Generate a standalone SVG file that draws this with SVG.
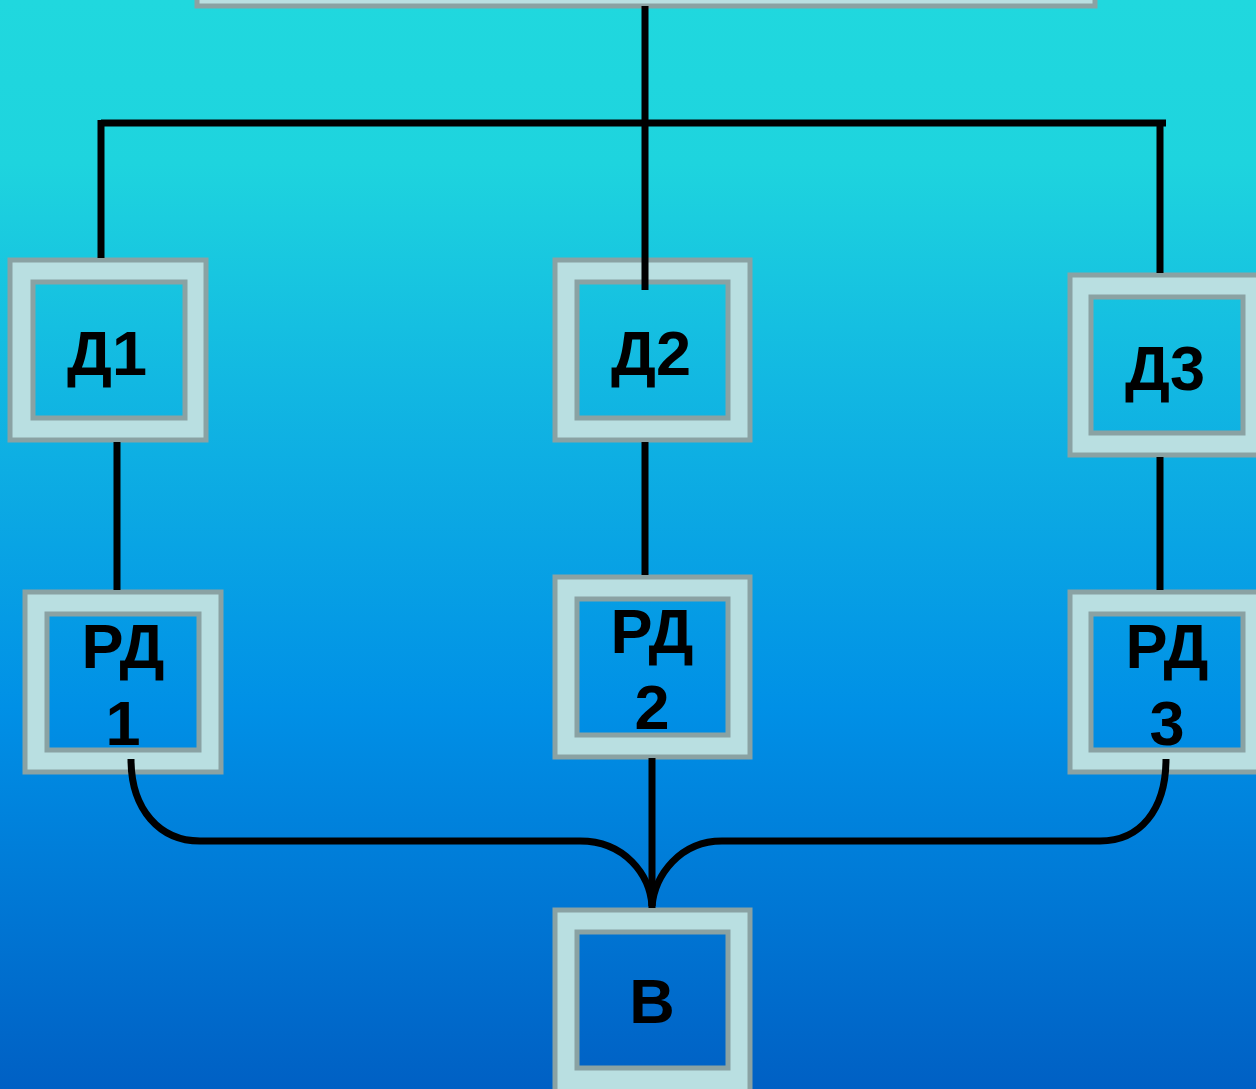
<svg xmlns="http://www.w3.org/2000/svg" width="1256" height="1089" viewBox="0 0 1256 1089">
<defs>
<linearGradient id="bg" gradientUnits="userSpaceOnUse" x1="0" y1="0" x2="0" y2="1089">
<stop offset="0" stop-color="#20d8de"/>
<stop offset="0.15" stop-color="#1ed4de"/>
<stop offset="0.35" stop-color="#12b8e2"/>
<stop offset="0.65" stop-color="#0090e6"/>
<stop offset="1" stop-color="#0060c4"/>
</linearGradient>
<style>
.outer{fill:#b9dfe1;stroke:#8aa2a3;stroke-width:5}
.inner{fill:url(#bg);stroke:#8aa2a3;stroke-width:5}
.lbl{font-family:"Liberation Sans",Arial,sans-serif;font-weight:bold;font-size:63px;fill:#000;text-anchor:middle}
.con{fill:none;stroke:#000;stroke-width:7}
</style>
</defs>
<rect x="0" y="0" width="1256" height="1089" fill="url(#bg)"/>
<g id="top"><rect class="outer" x="197" y="-20" width="898" height="26"/></g>
<g id="d1"><rect class="outer" x="10" y="260" width="196" height="180"/><rect class="inner" x="33" y="282" width="152" height="136"/><text class="lbl" x="107" y="375">Д1</text></g>
<g id="d2"><rect class="outer" x="555" y="260" width="195" height="180"/><rect class="inner" x="577" y="282" width="151" height="136"/><text class="lbl" x="651" y="375">Д2</text></g>
<g id="d3"><rect class="outer" x="1070" y="275" width="200" height="180"/><rect class="inner" x="1091" y="297" width="152" height="136"/><text class="lbl" x="1165" y="390">Д3</text></g>
<g id="rd1"><rect class="outer" x="25" y="592" width="196" height="180"/><rect class="inner" x="47" y="614" width="152" height="136"/><text class="lbl" x="123" y="668">РД</text><text class="lbl" x="123" y="745">1</text></g>
<g id="rd2"><rect class="outer" x="555" y="577" width="195" height="180"/><rect class="inner" x="577" y="599" width="151" height="136"/><text class="lbl" x="652" y="653">РД</text><text class="lbl" x="652" y="729">2</text></g>
<g id="rd3"><rect class="outer" x="1070" y="592" width="200" height="180"/><rect class="inner" x="1091" y="614" width="152" height="136"/><text class="lbl" x="1167" y="668">РД</text><text class="lbl" x="1167" y="745">3</text></g>
<g id="v"><rect class="outer" x="555" y="910" width="195" height="200"/><rect class="inner" x="577" y="932" width="151" height="136"/><text class="lbl" x="652" y="1023">В</text></g>
<g id="connectors">
<line class="con" x1="645" y1="6" x2="645" y2="290"/>
<line class="con" x1="101" y1="123" x2="1166" y2="123"/>
<line class="con" x1="101" y1="120" x2="101" y2="258"/>
<line class="con" x1="1160" y1="123" x2="1160" y2="273"/>
<line class="con" x1="117" y1="442" x2="117" y2="590"/>
<line class="con" x1="645" y1="442" x2="645" y2="575"/>
<line class="con" x1="1160" y1="457" x2="1160" y2="590"/>
<line class="con" x1="652" y1="758" x2="652" y2="908"/>
<path class="con" d="M131,759 C131,810 160,841 200,841 L580,841 C625,841 650,875 652,906"/>
<path class="con" d="M1166,759 C1166,810 1140,841 1100,841 L722,841 C680,841 655,875 652,906"/>
</g>
</svg>
